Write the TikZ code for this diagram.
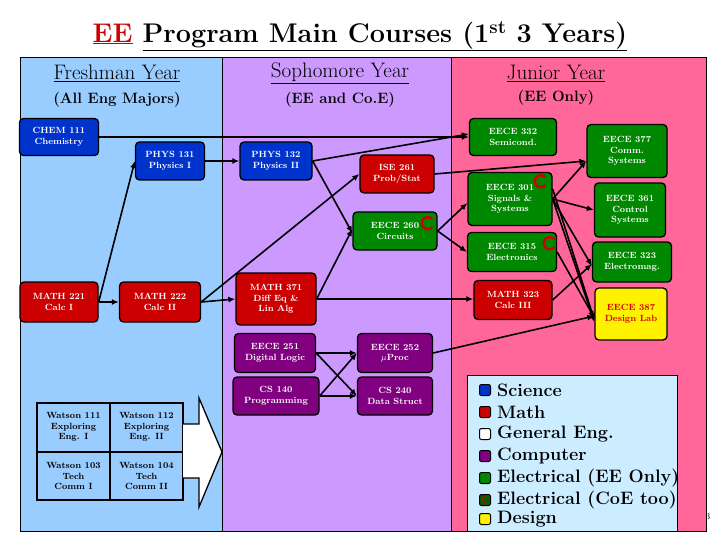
\documentclass[tikz,border=0pt]{standalone}
\usetikzlibrary{arrows.meta}
\definecolor{pblue}{RGB}{153,204,255}
\definecolor{ppurple}{RGB}{204,153,255}
\definecolor{ppink}{RGB}{255,102,153}
\definecolor{sci}{RGB}{0,51,204}
\definecolor{mth}{RGB}{204,0,0}
\definecolor{ele}{RGB}{0,136,0}
\definecolor{cmp}{RGB}{128,0,128}
\definecolor{lgbg}{RGB}{204,236,255}
\tikzset{
 course/.style={draw=black,line width=1.3pt,rounded corners=4pt,text=white,align=center,font=\fontsize{9}{10.5}\selectfont\bfseries,inner sep=1pt},
 scib/.style={course,fill=sci},
 mthb/.style={course,fill=mth},
 eleb/.style={course,fill=ele},
 cmpb/.style={course,fill=cmp},
 desb/.style={course,fill=yellow,text=mth},
 conn/.style={line width=1.6pt,-{Latex[length=7pt,width=6pt]}},
 cmark/.style={draw=mth,line width=2.4pt,line cap=round},
 hdr/.style={font=\fontsize{21}{23}\selectfont},
 sub/.style={font=\fontsize{15}{17}\selectfont\bfseries},
 lgsq/.style={draw=black,line width=1pt,rounded corners=2pt,minimum size=11pt,inner sep=0pt},
 lgtx/.style={anchor=west,font=\fontsize{18}{19}\selectfont\bfseries,inner sep=0pt}
}
\begin{document}
\begin{tikzpicture}[x=1pt,y=-1pt]
\useasboundingbox (0,0) rectangle (720,540);
\fill[white] (0,0) rectangle (720,540);
% panels
\fill[pblue] (20,57) rectangle (222,531);
\fill[ppurple] (222,57) rectangle (451,531);
\fill[ppink] (451,57) rectangle (706,531);
\draw[line width=0.8pt] (20,57) rectangle (706,531);
\draw[line width=0.8pt] (222,57) -- (222,531) (451,57) -- (451,531);
% title
\node (title) at (360,36) {\fontsize{27}{30}\selectfont\bfseries\textcolor{mth}{\underline{EE}} \underline{Program Main Courses (1\textsuperscript{st} 3 Years)}};
\node[hdr] (h1) at (117,73) {\underline{Freshman Year}};
\node[sub] (s1) at (117,100) {(All Eng Majors)};
\node[hdr] (h2) at (340,73) {\underline{Sophomore Year}};
\node[sub] (s2) at (340,100) {(EE and Co.E)};
\node[hdr] (h3) at (556,73) {\underline{Junior Year}};
\node[sub] (s3) at (556,98) {(EE Only)};
% nodes
\node[scib,minimum width=79pt,minimum height=37pt] (chem) at (59,137) {CHEM 111\\Chemistry};
\node[scib,minimum width=69pt,minimum height=38pt] (p131) at (170,161) {PHYS 131\\Physics I};
\node[scib,minimum width=72pt,minimum height=38pt] (p132) at (276,161) {PHYS 132\\Physics II};
\node[mthb,minimum width=74pt,minimum height=38pt] (ise) at (397,174) {ISE 261\\Prob/Stat};
\node[eleb,minimum width=84pt,minimum height=38pt] (e260) at (395,231) {EECE 260\\Circuits};
\node[eleb,minimum width=87pt,minimum height=37pt] (e332) at (513,137) {EECE 332\\Semicond.};
\node[eleb,minimum width=84pt,minimum height=53pt] (e301) at (510,199) {EECE 301\\Signals \&\\Systems};
\node[eleb,minimum width=89pt,minimum height=39pt] (e315) at (512,252) {EECE 315\\Electronics};
\node[mthb,minimum width=78pt,minimum height=39pt] (m323) at (513,300) {MATH 323\\Calc III};
\node[eleb,minimum width=80pt,minimum height=53pt] (e377) at (627,151) {EECE 377\\Comm.\\Systems};
\node[eleb,minimum width=71pt,minimum height=54pt] (e361) at (630,210) {EECE 361\\Control\\Systems};
\node[eleb,minimum width=79pt,minimum height=40pt] (e323) at (632,262) {EECE 323\\Electromag.};
\node[desb,minimum width=72pt,minimum height=52pt] (e387) at (631,314) {EECE 387\\Design Lab};
\node[mthb,minimum width=78pt,minimum height=40pt] (m221) at (59,302) {MATH 221\\Calc I};
\node[mthb,minimum width=81pt,minimum height=40pt] (m222) at (160,302) {MATH 222\\Calc II};
\node[mthb,minimum width=80pt,minimum height=52pt] (m371) at (276,299) {MATH 371\\Diff Eq \&\\Lin Alg};
\node[cmpb,minimum width=81pt,minimum height=39pt] (e251) at (275,353) {EECE 251\\Digital Logic};
\node[cmpb,minimum width=86pt,minimum height=38pt] (cs140) at (276,396) {CS 140\\Programming};
\node[cmpb,minimum width=75pt,minimum height=39pt] (e252) at (395,353) {EECE 252\\$\mu$Proc};
\node[cmpb,minimum width=75pt,minimum height=38pt] (cs240) at (395,396) {CS 240\\Data Struct};
% C marks
\draw[cmark] (432,219) arc (45:315:6pt);
\draw[cmark] (545,177) arc (45:315:6pt);
\draw[cmark] (554,239) arc (45:315:6pt);
% connectors
\draw[conn] (chem.east) -- (chem.east -| e332.west);
\draw[conn] (p132.east) -- ([yshift=3pt]e332.west);
\draw[conn] (p132.east) -- ([yshift=-2pt]e260.west);
\draw[conn] (m222.east) -- (ise.west);
\draw[conn] (m221.east) -- (p131.west);
\draw[conn] (m221.east) -- (m222.west);
\draw[conn] (p131.east) -- (p132.west);
\draw[conn] (m222.east) -- (m371.west);
\draw[conn] (m371.east) -- ([yshift=2pt]e260.west);
\draw[conn] (m371.east) -- (m371.east -| m323.west);
\draw[conn] (ise.east) -- ([yshift=-10pt]e377.west);
\draw[conn] (e260.east) -- ([yshift=-4pt]e301.west);
\draw[conn] (e260.east) -- (e315.west);
\draw[conn] (e301.east) -- ([yshift=-10pt]e377.west);
\draw[conn] (e301.east) -- (e361.west);
\draw[conn] (e301.east) -- ([yshift=-4pt]e323.west);
\draw[conn] (e301.east) -- ([yshift=-8pt]e387.west);
\draw[conn] ([yshift=10pt]e301.east) -- ([yshift=-6pt]e387.west);
\draw[conn] (e315.east) -- ([yshift=-4pt]e387.west);
\draw[conn] (m323.east) -- ([yshift=-2pt]e323.west);
\draw[conn] (e252.east) -- ([yshift=-2pt]e387.west);
\draw[conn] (e251.east) -- (e252.west);
\draw[conn] (e251.east) -- (cs240.west);
\draw[conn] (cs140.east) -- (e252.west);
\draw[conn] (cs140.east) -- (cs240.west);
% Watson table
\draw[line width=1.3pt] (37,403) rectangle (183,500);
\draw[line width=1.3pt] (110,403) -- (110,500) (37,452) -- (183,452);
\tikzset{wt/.style={align=center,font=\fontsize{9}{10.5}\selectfont\bfseries,inner sep=0pt}}
\node[wt] (w111) at (73.5,427) {Watson 111\\Exploring\\Eng. I};
\node[wt] (w112) at (146.5,427) {Watson 112\\Exploring\\Eng. II};
\node[wt] (w103) at (73.5,476) {Watson 103\\Tech\\Comm I};
\node[wt] (w104) at (146.5,476) {Watson 104\\Tech\\Comm II};
% big arrow
\draw[line width=1.3pt,fill=white] (183,424) -- (199,424) -- (199,398) -- (222,452) -- (199,507) -- (199,478) -- (183,478);
% legend
\draw[fill=lgbg,line width=1pt] (467,375) rectangle (677,531);
\node[lgsq,fill=sci] (q1) at (485,390) {};
\node[lgtx] (t1) at (497,390) {Science};
\node[lgsq,fill=mth] (q2) at (485,412) {};
\node[lgtx] (t2) at (497,412) {Math};
\node[lgsq,fill=white] (q3) at (485,434) {};
\node[lgtx] (t3) at (497,434) {General Eng.};
\node[lgsq,fill=cmp] (q4) at (485,456) {};
\node[lgtx] (t4) at (497,456) {Computer};
\node[lgsq,fill=ele] (q5) at (485,478) {};
\node[lgtx] (t5) at (497,478) {Electrical (EE Only)};
\node[lgsq,fill=ele!70!black] (q6) at (485,500) {};
\draw[draw=mth!80!ele,line width=1pt] (487,497.5) arc (45:315:3pt);
\node[lgtx] (t6) at (497,500) {Electrical (CoE too)};
\node[lgsq,fill=yellow] (q7) at (485,519) {};
\node[lgtx] (t7) at (497,519) {Design};
\node[font=\fontsize{9}{10}\selectfont] (pg) at (708,517) {3};
\end{tikzpicture}
\end{document}
